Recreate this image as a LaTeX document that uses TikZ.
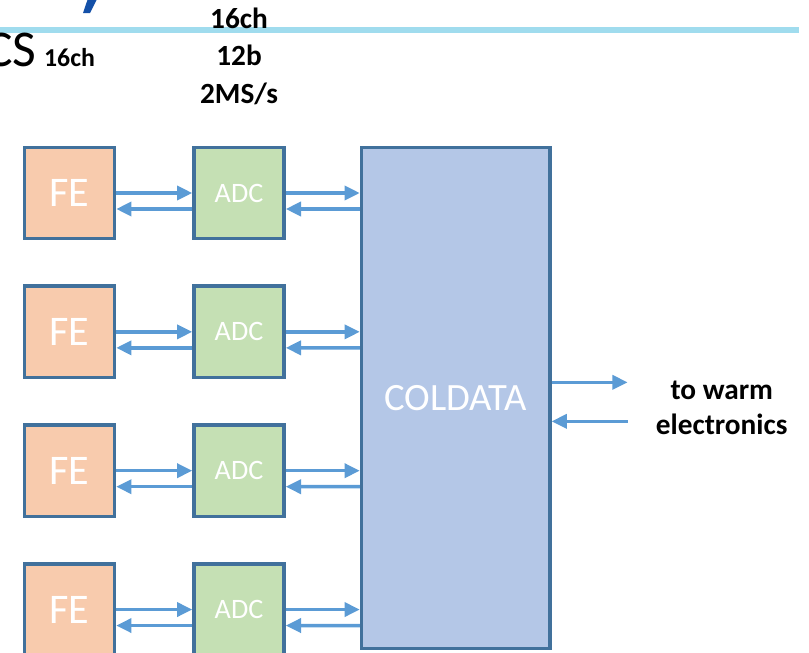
\documentclass[tikz,border=0pt]{standalone}
\usepackage{fontspec}
\setmainfont{Carlito}
\usetikzlibrary{positioning,arrows.meta,calc}
\definecolor{feorange}{HTML}{F8CBAD}
\definecolor{adcgreen}{HTML}{C5E0B4}
\definecolor{coldblue}{HTML}{B4C7E7}
\definecolor{boxline}{HTML}{41719C}
\definecolor{arrblue}{HTML}{5B9BD5}
\definecolor{rulecyan}{HTML}{A0DCEE}
\definecolor{titleblue}{HTML}{1450A8}

\begin{document}
\begin{tikzpicture}[
      box/.style={draw=boxline, line width=3pt, align=center, text=white, inner sep=0pt,
                  minimum width=2.7cm, minimum height=2.74cm},
      fe/.style={box, fill=feorange, font=\fontsize{36}{40}\selectfont},
      adc/.style={box, fill=adcgreen, font=\fontsize{24}{28}\selectfont},
      coldbox/.style={box, fill=coldblue, font=\fontsize{33}{38}\selectfont,
                  minimum width=5.65cm, minimum height=15.04cm},
      arr/.style={-{Triangle[length=13pt,width=12pt]}, line width=3pt, draw=arrblue},
      lbl/.style={font=\fontsize{25}{32}\selectfont\bfseries, align=center, inner sep=0pt}
    ]
    \useasboundingbox (0,0) rectangle (24.27,-19.56);

    % slide header leftovers
    \fill[titleblue] (2.64,0.05) -- (2.92,0.05) -- (2.70,-0.39) -- (2.49,-0.39) -- cycle;
    \draw[draw=rulecyan, line width=0.18cm] (0,-0.9) -- (23.97,-0.9);

    % front ends and ADCs
    \node[fe] (fe1) at (2.085,-5.79) {FE};
    \node[fe, below=1.32cm of fe1] (fe2) {FE};
    \node[fe, below=1.32cm of fe2] (fe3) {FE};
    \node[fe, below=1.32cm of fe3] (fe4) {FE};
    \node[adc, right=2.28cm of fe1] (adc1) {ADC};
    \node[adc, right=2.28cm of fe2] (adc2) {ADC};
    \node[adc, right=2.28cm of fe3] (adc3) {ADC};
    \node[adc, right=2.28cm of fe4] (adc4) {ADC};

    % COLDATA
    \node[coldbox, right=2.22cm of adc1.north east, anchor=north west] (coldata) {COLDATA};

    % labels
    \node[lbl, above=1.23cm of adc1] (spec) {16ch\\12b\\2MS/s};
    \node[lbl, font=\fontsize{22}{26}\selectfont\bfseries, above=2.36cm of fe1] (ch16) {16ch};
    \node[font=\fontsize{44}{48}\selectfont, inner sep=0pt, base left=0.22cm of ch16] (cs) {CS};
    \node[lbl, font=\fontsize{25}{30}\selectfont\bfseries, right=3.12cm of coldata.east, yshift=-0.29cm] (warm) {to warm\\electronics};

    % FE <-> ADC
    \draw[arr] (fe1) -- (adc1);
    \draw[arr] ([yshift=-0.48cm]adc1.west) -- ([yshift=-0.48cm]fe1.east);
    \draw[arr] (fe2) -- (adc2);
    \draw[arr] ([yshift=-0.48cm]adc2.west) -- ([yshift=-0.48cm]fe2.east);
    \draw[arr] (fe3) -- (adc3);
    \draw[arr] ([yshift=-0.48cm]adc3.west) -- ([yshift=-0.48cm]fe3.east);
    \draw[arr] (fe4) -- (adc4);
    \draw[arr] ([yshift=-0.48cm]adc4.west) -- ([yshift=-0.48cm]fe4.east);

    % ADC <-> COLDATA
    \draw[arr] (adc1.east) -- (adc1.east -| coldata.west);
    \draw[arr] ($(adc1.east -| coldata.west)+(0,-0.48)$) -- ([yshift=-0.48cm]adc1.east);
    \draw[arr] (adc2.east) -- (adc2.east -| coldata.west);
    \draw[arr] ($(adc2.east -| coldata.west)+(0,-0.48)$) -- ([yshift=-0.48cm]adc2.east);
    \draw[arr] (adc3.east) -- (adc3.east -| coldata.west);
    \draw[arr] ($(adc3.east -| coldata.west)+(0,-0.48)$) -- ([yshift=-0.48cm]adc3.east);
    \draw[arr] (adc4.east) -- (adc4.east -| coldata.west);
    \draw[arr] ($(adc4.east -| coldata.west)+(0,-0.48)$) -- ([yshift=-0.48cm]adc4.east);

    % COLDATA <-> warm electronics
    \coordinate[above right=0.47cm and 2.28cm of coldata.east] (wout);
    \coordinate[below right=0.7cm and 2.28cm of coldata.east] (win);
    \draw[arr] (coldata.east |- wout) -- (wout);
    \draw[arr] (win) -- (coldata.east |- win);
  \end{tikzpicture}
\end{document}
